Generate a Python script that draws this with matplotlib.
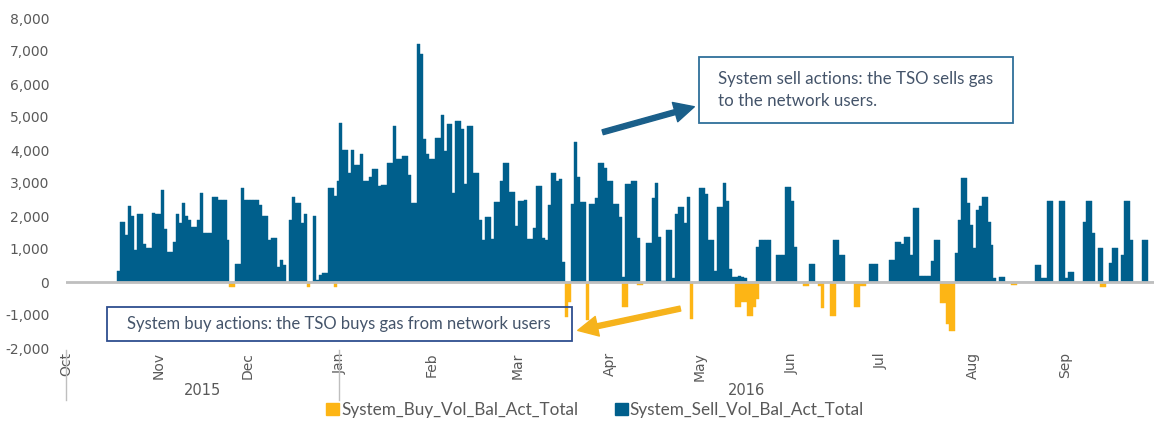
import matplotlib
matplotlib.use("Agg")
import matplotlib.pyplot as plt
from matplotlib.patches import Patch, Rectangle, FancyArrowPatch
from matplotlib.ticker import FuncFormatter
import pandas as pd


# Dagligt salg fra 18. oktober 2015 til 30. september 2016
sell_start = "2015-10-18"
sell_values = [
    330, 1820, 1820, 1410, 2290, 2000, 960, 2050, 2050, 1160,
    1030, 1030, 2100, 2070, 2070, 2780, 1600, 900, 900, 1200,
    2070, 1800, 2400, 2000, 1870, 1670, 1670, 1870, 2700, 1500,
    1500, 1500, 2580, 2580, 2500, 2470, 2470, 1260, 0, 0,
    550, 550, 2840, 2480, 2480, 2500, 2500, 2480, 2330, 2000,
    2000, 1270, 1320, 1320, 460, 670, 520, 0, 1880, 2570,
    2400, 2400, 1800, 2070, 0, 0, 2000, 60, 200, 280,
    280, 2860, 2860, 2620, 3060, 4830, 4000, 4000, 3310, 4000,
    3550, 3550, 3880, 3070, 3070, 3190, 3420, 3420, 2900, 2940,
    2940, 3620, 3620, 4740, 3720, 3720, 3830, 3830, 3240, 2400,
    2400, 7210, 6900, 4320, 3880, 3720, 3720, 4370, 4370, 5060,
    3970, 4790, 4790, 2690, 4890, 4890, 4640, 2960, 4740, 4740,
    3290, 3290, 1880, 1270, 1960, 1960, 1290, 2430, 2430, 3070,
    3600, 3600, 2720, 2720, 1700, 2460, 2460, 2500, 1300, 1300,
    1650, 2910, 2910, 1320, 1270, 2330, 3290, 3290, 3060, 3110,
    620, 0, 0, 2350, 4230, 3170, 2410, 2410, 0, 2350,
    2350, 2560, 3600, 3600, 3460, 3060, 3060, 2350, 2350, 1980,
    140, 2960, 2960, 3060, 3060, 1340, 0, 0, 1170, 1170,
    2560, 3010, 1350, 40, 40, 1580, 1580, 130, 2050, 2280,
    2280, 1780, 2570, 0, 0, 0, 2840, 2840, 2670, 1270,
    1270, 330, 2260, 2260, 3010, 2460, 380, 140, 140, 180,
    160, 110, 0, 0, 0, 1050, 1270, 1270, 1270, 1270,
    0, 0, 810, 810, 810, 2870, 2870, 2460, 1070, 0,
    0, 0, 0, 540, 540, 0, 0, 0, 0, 0,
    0, 1270, 1270, 810, 810, 0, 0, 0, 0, 0,
    0, 0, 0, 560, 560, 560, 0, 0, 0, 0,
    670, 670, 1210, 1210, 1150, 1370, 1370, 810, 2250, 2250,
    180, 180, 180, 180, 650, 1270, 1270, 0, 0, 0,
    0, 0, 870, 1880, 3160, 3160, 2380, 1720, 1020, 2180,
    2300, 2590, 2590, 1830, 1120, 110, 0, 140, 140, 0,
    0, 0, 0, 0, 0, 0, 0, 0, 0, 520,
    520, 110, 110, 2460, 2460, 0, 0, 2460, 2460, 110,
    310, 310, 0, 0, 0, 1830, 2460, 2460, 1500, 0,
    1020, 1020, 0, 0, 570, 1020, 1020, 0, 810, 2460,
    2460, 1270, 0, 0, 0, 1270, 1270, 0, 0,
]

# Kob (negative vaerdier) kun de dage hvor der var handel
buy_dates = [
    "2015-11-25", "2015-11-26", "2015-12-21", "2015-12-30",
    "2016-03-17", "2016-03-18", "2016-03-24", "2016-04-05", "2016-04-06",
    "2016-04-10", "2016-04-11", "2016-04-28",
    "2016-05-13", "2016-05-14", "2016-05-15", "2016-05-16", "2016-05-17",
    "2016-05-18", "2016-05-19", "2016-05-20",
    "2016-06-05", "2016-06-06", "2016-06-10", "2016-06-11", "2016-06-14",
    "2016-06-15", "2016-06-22", "2016-06-23", "2016-06-24", "2016-06-25",
    "2016-07-21", "2016-07-22", "2016-07-23", "2016-07-24", "2016-07-25",
    "2016-08-14", "2016-08-15", "2016-09-13", "2016-09-14",
]
buy_values = [
    -150, -150, -150, -150,
    -1050, -600, -1150, -750, -750,
    -80, -80, -1130,
    -750, -750, -600, -600, -1030,
    -1030, -750, -500,
    -120, -120, -120, -800, -1020,
    -1020, -750, -750, -120, -120,
    -650, -650, -1270, -1470, -1470,
    -90, -90, -140, -140,
]

month_labels = ["Oct", "Nov", "Dec", "Jan", "Feb", "Mar",
                "Apr", "May", "Jun", "Jul", "Aug", "Sep"]
year_labels = ["2015", "2016"]
buy_name = "System_Buy_Vol_Bal_Act_Total"
sell_name = "System_Sell_Vol_Bal_Act_Total"
sell_note = "System sell actions: the TSO sells gas\nto the network users."
buy_note = "System buy actions: the TSO buys gas from network users"

sell_color = "#005f8c"
buy_color = "#fdb515"
grey = "#595959"
note_color = "#44546a"

sell_dates = pd.date_range(sell_start, periods=len(sell_values), freq="D")
buy_days = pd.to_datetime(buy_dates)
x_start = pd.Timestamp("2015-10-01")
x_end = pd.Timestamp("2016-10-01")
new_year = pd.Timestamp("2016-01-01")
month_starts = pd.date_range(x_start, periods=12, freq="MS")

W, H = 1154, 421
fig = plt.figure(figsize=(W / 100, H / 100), dpi=100)
ax = fig.add_axes([66 / W, 1 - 348 / H, 1 - 66 / W, 330 / H])

ax.bar(sell_dates, sell_values, width=1.0, align="edge", color=sell_color,
       edgecolor=sell_color, linewidth=0.3, zorder=2)
ax.bar(buy_days, buy_values, width=1.0, align="edge", color=buy_color,
       edgecolor=buy_color, linewidth=0.3, zorder=2)
ax.axhline(0, color="#bfbfbf", linewidth=2, zorder=3)

ax.set_xlim(x_start, x_end)
ax.set_ylim(-2000, 8000)
ax.set_yticks(range(-2000, 8001, 1000))
ax.yaxis.set_major_formatter(FuncFormatter(lambda v, p: f"{int(v):,}"))
ax.tick_params(axis="y", length=0, pad=12, labelsize=10, labelcolor=grey)

ax.set_xticks(month_starts)
ax.set_xticklabels(month_labels, rotation=90, fontsize=10, color=grey)
ax.tick_params(axis="x", length=0, pad=3)

for side in ["top", "right", "left", "bottom"]:
    ax.spines[side].set_visible(False)

# aarstal og skillelinjer under aksen
trans = ax.get_xaxis_transform()
year_mid = [x_start + (new_year - x_start) / 2, new_year + (x_end - new_year) / 2]
for mid, label in zip(year_mid, year_labels):
    ax.text(mid, -0.13, label, transform=trans, ha="center", va="center",
            fontsize=10.5, color=grey)
for d in [x_start, new_year]:
    ax.plot([d, d], [-0.005, -0.158], transform=trans, color="#bfbfbf",
            linewidth=1, clip_on=False)

# tekstbokse med forklaring
fig.patches.append(Rectangle((699 / W, 1 - 123 / H), 314 / W, 66 / H,
                             transform=fig.transFigure, facecolor="white",
                             edgecolor="#2f6f9a", linewidth=1.3, zorder=5))
fig.text(718 / W, 1 - 90 / H, sell_note, ha="left", va="center",
         fontsize=12.2, color=note_color, family="Lato", linespacing=1.45, zorder=6)

fig.patches.append(Rectangle((107 / W, 1 - 341 / H), 465 / W, 34 / H,
                             transform=fig.transFigure, fill=False,
                             edgecolor="#2e4e8f", linewidth=1.3, zorder=5))
fig.text(339 / W, 1 - 324 / H, buy_note, ha="center", va="center",
         fontsize=12, color=note_color, family="Lato", zorder=6)

# pile
arrow_style = "simple,head_length=1.2,head_width=1.2,tail_width=0.3"
fig.patches.append(FancyArrowPatch((600 / W, 1 - 133 / H), (697 / W, 1 - 106 / H),
                                   transform=fig.transFigure, arrowstyle=arrow_style,
                                   mutation_scale=12, color="#1a5f8a", zorder=6))
fig.patches.append(FancyArrowPatch((683 / W, 1 - 308 / H), (575 / W, 1 - 331 / H),
                                   transform=fig.transFigure, arrowstyle=arrow_style,
                                   mutation_scale=12, color="#f6b31c", zorder=6))

handles = [Patch(color=buy_color, label=buy_name),
           Patch(color=sell_color, label=sell_name)]
fig.legend(handles=handles, loc="center", bbox_to_anchor=(595 / W, 1 - 410 / H),
           ncol=2, frameon=False, handlelength=0.75, handleheight=0.75,
           handletextpad=0.1, columnspacing=2.15,
           prop={"family": "Lato", "size": 12.3}, labelcolor=grey)

fig.savefig("out.png", dpi=100)
